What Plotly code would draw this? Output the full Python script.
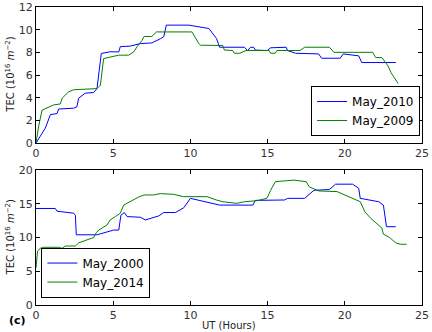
import plotly.graph_objects as go

# Top panel
ut_2010 = [0, 0.6, 0.93, 1.36, 1.47, 2.44, 2.65, 2.76, 3.2, 3.73, 3.95, 4.23, 4.8, 5.36, 5.46, 6.1, 6.76, 7.5, 8.06, 8.27, 8.44, 9.9, 11.2, 11.7, 11.89, 13.5, 13.7, 13.9, 14.1, 14.2, 14.97, 15.2, 16.2, 16.3, 16.8, 18.3, 18.5, 19.7, 19.9, 20.9, 21.1, 23.3]
tec_2010 = [0, 1.3, 2.5, 2.6, 3.0, 3.07, 3.2, 3.95, 4.4, 4.45, 4.8, 7.9, 8.05, 8.04, 8.5, 8.55, 8.77, 8.83, 9.2, 9.36, 10.4, 10.4, 10.1, 9.2, 8.45, 8.45, 8.16, 8.45, 8.45, 8.2, 8.16, 8.4, 8.45, 8.16, 7.92, 7.86, 7.48, 7.48, 7.86, 7.69, 7.1, 7.1]

ut_2009 = [0, 0.17, 0.39, 0.93, 1.14, 1.58, 1.69, 2.1, 2.44, 3.95, 4.17, 4.38, 5.0, 5.36, 6.0, 6.33, 6.55, 6.87, 7.0, 7.5, 7.8, 10.1, 10.55, 10.65, 12.1, 12.2, 12.75, 12.85, 13.2, 13.4, 13.6, 15.1, 15.2, 15.5, 15.6, 17.1, 17.4, 19.0, 19.3, 21.8, 22.0, 22.4, 22.6, 22.8, 23.0, 23.3, 23.45]
tec_2009 = [0, 1.46, 2.9, 3.2, 3.36, 3.45, 3.95, 4.5, 4.7, 4.8, 5.1, 7.45, 7.6, 7.75, 7.75, 8.04, 8.5, 9.06, 9.4, 9.4, 9.8, 9.8, 8.77, 8.63, 8.6, 8.2, 8.16, 7.92, 7.92, 8.07, 8.16, 8.16, 7.92, 7.92, 8.16, 8.16, 8.45, 8.45, 8.0, 8.0, 7.54, 7.54, 7.16, 6.8, 6.2, 5.5, 5.25]

# Bottom panel
ut_2000 = [0, 1.25, 1.36, 2.44, 2.55, 2.61, 3.95, 5.03, 5.36, 5.5, 5.72, 5.9, 6.76, 7.08, 7.95, 8.27, 9.03, 9.57, 10.0, 11.9, 14.05, 14.2, 16.1, 16.3, 17.4, 18.0, 19.0, 19.4, 20.5, 20.9, 21.0, 22.2, 22.5, 22.7, 23.3]
tec_2000 = [14.3, 14.3, 13.9, 13.6, 13.3, 10.4, 10.4, 11.1, 11.1, 13.3, 13.7, 13.1, 13.0, 12.6, 13.2, 13.7, 13.7, 14.4, 15.8, 14.8, 14.8, 15.5, 15.56, 15.8, 15.8, 17.0, 17.1, 17.9, 17.9, 17.3, 15.8, 15.3, 14.8, 11.6, 11.6]

ut_2014 = [0, 0.1, 0.28, 0.5, 1.47, 1.68, 1.9, 2.55, 2.76, 3.3, 3.73, 3.9, 4.06, 4.6, 4.8, 5.14, 5.46, 5.68, 6.33, 6.65, 7.0, 7.6, 8.05, 8.9, 9.57, 11.08, 11.68, 12.1, 13.0, 13.5, 14.3, 14.95, 15.2, 15.5, 16.7, 17.5, 17.7, 18.3, 19.5, 20.0, 20.5, 21.0, 21.3, 21.7, 22.4, 22.5, 22.9, 23.3, 23.6, 24.0]
tec_2014 = [5.5, 8.0, 8.4, 8.55, 8.55, 8.4, 8.74, 8.74, 9.2, 9.7, 10.0, 10.7, 11.1, 11.85, 12.6, 13.1, 13.6, 14.8, 15.65, 16.0, 16.3, 16.3, 16.5, 16.4, 16.05, 16.05, 15.56, 15.3, 15.06, 15.3, 15.45, 15.8, 17.0, 18.27, 18.5, 18.27, 17.5, 16.9, 16.8, 16.3, 15.8, 15.3, 13.8, 12.8, 11.4, 10.5, 10.0, 9.2, 9.0, 9.0]

x_ticks = [0, 5, 10, 15, 20, 25]
top_ticks = [0, 2, 4, 6, 8, 10, 12]
bot_ticks = [0, 5, 10, 15, 20]

BLUE = "#0000ff"
GREEN = "#008000"

fig = go.Figure()
fig.add_trace(go.Scatter(x=ut_2010, y=tec_2010, mode="lines", name="May_2010",
                         line=dict(color=BLUE, width=1), xaxis="x", yaxis="y", legend="legend"))
fig.add_trace(go.Scatter(x=ut_2009, y=tec_2009, mode="lines", name="May_2009",
                         line=dict(color=GREEN, width=1), xaxis="x", yaxis="y", legend="legend"))
fig.add_trace(go.Scatter(x=ut_2000, y=tec_2000, mode="lines", name="May_2000",
                         line=dict(color=BLUE, width=1), xaxis="x2", yaxis="y2", legend="legend2"))
fig.add_trace(go.Scatter(x=ut_2014, y=tec_2014, mode="lines", name="May_2014",
                         line=dict(color=GREEN, width=1), xaxis="x2", yaxis="y2", legend="legend2"))

axis_common = dict(showline=True, linecolor="black", linewidth=1, mirror="allticks",
                   ticks="inside", ticklen=4, tickcolor="black", showgrid=False, zeroline=False,
                   automargin=False,
                   tickfont=dict(family="DejaVu Sans", size=11, color="#333333"))

ytitle = "TEC (10<sup>16</sup> <i>m</i><sup>−2</sup>)"
tfont = dict(family="DejaVu Sans", size=10, color="#222222")

fig.update_layout(
    width=432, height=332,
    margin=dict(l=36, r=10, t=7, b=27),
    paper_bgcolor="white", plot_bgcolor="white",
    showlegend=True,
    xaxis=dict(domain=[0, 1], range=[0, 25], tickvals=x_ticks, anchor="y", **axis_common),
    yaxis=dict(domain=[0.5436, 1], range=[0, 12], tickvals=top_ticks, anchor="x", **axis_common),
    xaxis2=dict(domain=[0, 1], range=[0, 25], tickvals=x_ticks, anchor="y2", **axis_common),
    yaxis2=dict(domain=[0, 0.453], range=[0, 20], tickvals=bot_ticks, anchor="x2", **axis_common),
    legend=dict(x=0.995, y=0.567, xanchor="right", yanchor="bottom",
                bordercolor="black", borderwidth=1, bgcolor="white",
                font=dict(family="DejaVu Sans", size=12, color="black")),
    legend2=dict(x=0.014, y=0.025, xanchor="left", yanchor="bottom",
                 bordercolor="black", borderwidth=1, bgcolor="white",
                 font=dict(family="DejaVu Sans", size=12, color="black")),
    annotations=[
        dict(text="<b>(c)</b>", x=(7 - 36) / 386, y=(305 - 320) / 298, xref="paper", yref="paper",
             xanchor="left", yanchor="middle", showarrow=False,
             font=dict(family="DejaVu Sans", size=11, color="black")),
        dict(text="UT (Hours)", x=0.5, y=-0.07, xref="paper", yref="paper",
             xanchor="center", yanchor="middle", showarrow=False, font=tfont),
        dict(text=ytitle, x=-0.068, y=0.772, xref="paper", yref="paper", textangle=-90,
             xanchor="center", yanchor="middle", showarrow=False, font=tfont),
        dict(text=ytitle, x=-0.068, y=0.226, xref="paper", yref="paper", textangle=-90,
             xanchor="center", yanchor="middle", showarrow=False, font=tfont),
    ],
)

fig.write_html("out.html", config={"displayModeBar": False},
               post_script="document.body.style.margin='0';")
